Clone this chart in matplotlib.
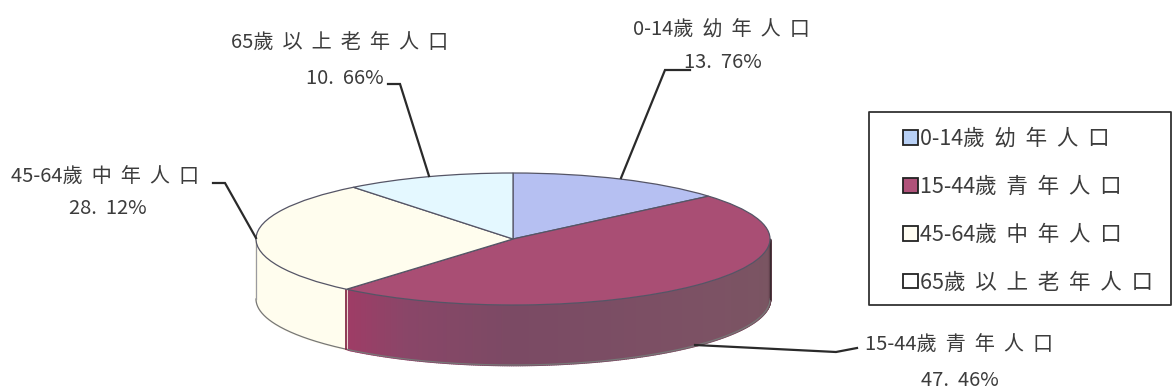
import numpy as np
import matplotlib
matplotlib.use("Agg")
import matplotlib.pyplot as plt
from matplotlib.colors import to_rgb

plt.rcParams['font.family'] = ['Noto Sans CJK TC', 'DejaVu Sans']

categories = ['0-14歲幼年人口', '15-44歲青年人口', '45-64歲中年人口', '65歲以上老年人口']
values = [13.76, 47.46, 28.12, 10.66]
value_labels = ['13.  76%', '47.  46%', '28.  12%', '10.  66%']
top_colors = ['#b6c0f2', '#a94e74', '#fffdee', '#e4f8ff']
legend_colors = ['#b8d0f5', '#b0527a', '#fffdf2', '#ffffff']

W, H = 1173, 392
CX, CY, RX, RY, DEPTH = 513, 239, 257, 66, 60
TEXT = '#3c3c3c'
FS = 14.5
LEG_FS = 15.5


def dx(px):
    return (np.asarray(px, float) - CX) / RX


def dy(py):
    return (CY - np.asarray(py, float)) / RY


def spaced(s):
    head = ''.join(c for c in s if ord(c) < 128)
    tail = s[len(head):]
    return head + '  '.join(tail)


fig = plt.figure(figsize=(W / 100, H / 100), dpi=100, facecolor='white')
ax = fig.add_axes([0, 0, 1, 1])

wedges, _ = ax.pie(values, colors=top_colors, startangle=90, counterclock=False,
                   radius=1, center=(0, 0),
                   wedgeprops=dict(edgecolor='#555566', linewidth=0.9, zorder=5))
ax.set_aspect('auto')
ax.set_xlim(dx(0), dx(W))
ax.set_ylim(dy(H), dy(0))
ax.axis('off')

# side wall, built from the same wedge angles
d = DEPTH / RY
ends = np.cumsum(values) * 3.6
starts = ends - np.array(values) * 3.6
red_stops_t = [90, 100, 130, 180, 205, 221]
red_stops_c = ['#54343f', '#7a5562', '#7c5264', '#7b4a64', '#8a4668', '#a03c66']
red_rgb = np.array([to_rgb(c) for c in red_stops_c])
for i, (a, b) in enumerate(zip(starts, ends)):
    lo, hi = max(a, 90), min(b, 270)
    if hi <= lo:
        continue
    grid = np.linspace(lo, hi, int((hi - lo) * 2) + 2)
    for t0, t1 in zip(grid[:-1], grid[1:]):
        tm = np.radians([t0, t1])
        xs = np.sin(tm)
        ys = np.cos(tm)
        if i == 1:
            col = [np.interp((t0 + t1) / 2, red_stops_t, red_rgb[:, k]) for k in range(3)]
        else:
            col = top_colors[i]
        ax.fill_between(xs, ys - d, ys, color=col, lw=1.2, zorder=2)

# wall outlines
tt = np.radians(np.linspace(90, 270, 361))
ax.plot(np.sin(tt), np.cos(tt) - d, color='#777777', lw=0.9, zorder=3)
ax.plot([1, 1], [0, -d], color='#3a2a30', lw=1.0, zorder=3)
ax.plot([-1, -1], [0, -d], color='#9a9aa0', lw=0.9, zorder=3)
tb = np.radians(ends[1])
ax.plot([np.sin(tb)] * 2, [np.cos(tb), np.cos(tb) - d], color='#7a1a3a', lw=1.2, zorder=3)

# leader lines
leaders = [
    ([690, 665, 621], [70, 70, 178]),
    ([388, 400, 429], [84, 84, 176]),
    ([213, 225, 256], [183, 183, 238]),
    ([695, 836, 857], [345, 352, 348]),
]
for lx, ly in leaders:
    ax.plot(dx(lx), dy(ly), color='#2a2a2a', lw=1.6, zorder=6, solid_joinstyle='miter')

# data labels
pos = [(721, 30, 723, 63), (959, 345, 960, 380), (105, 177, 108, 208), (340, 43, 345, 79)]
for cat, lab, (x1, y1, x2, y2) in zip(categories, value_labels, pos):
    ax.text(dx(x1), dy(y1), spaced(cat), ha='center', va='center', fontsize=FS, color=TEXT, zorder=7)
    ax.text(dx(x2), dy(y2), lab, ha='center', va='center', fontsize=FS, color=TEXT, zorder=7)

# legend box and entries
ax.fill_between(dx([869, 1171]), dy(112), dy(305), facecolor='white', edgecolor='#333333', lw=1.3, zorder=7)
handles = [plt.Rectangle((0, 0), 1, 1, facecolor=c, edgecolor='#222222', lw=1.3) for c in legend_colors]
leg = ax.legend(handles, [spaced(c) for c in categories],
                loc='upper left', bbox_to_anchor=(903 / W, 1 - 128 / H),
                bbox_transform=fig.transFigure, fontsize=LEG_FS, frameon=False,
                handlelength=0.68, handleheight=0.68, handletextpad=0.1,
                labelspacing=1.2, borderpad=0, borderaxespad=0, labelcolor=TEXT)
leg.set_zorder(8)

fig.savefig('out.png', dpi=100, facecolor='white')
